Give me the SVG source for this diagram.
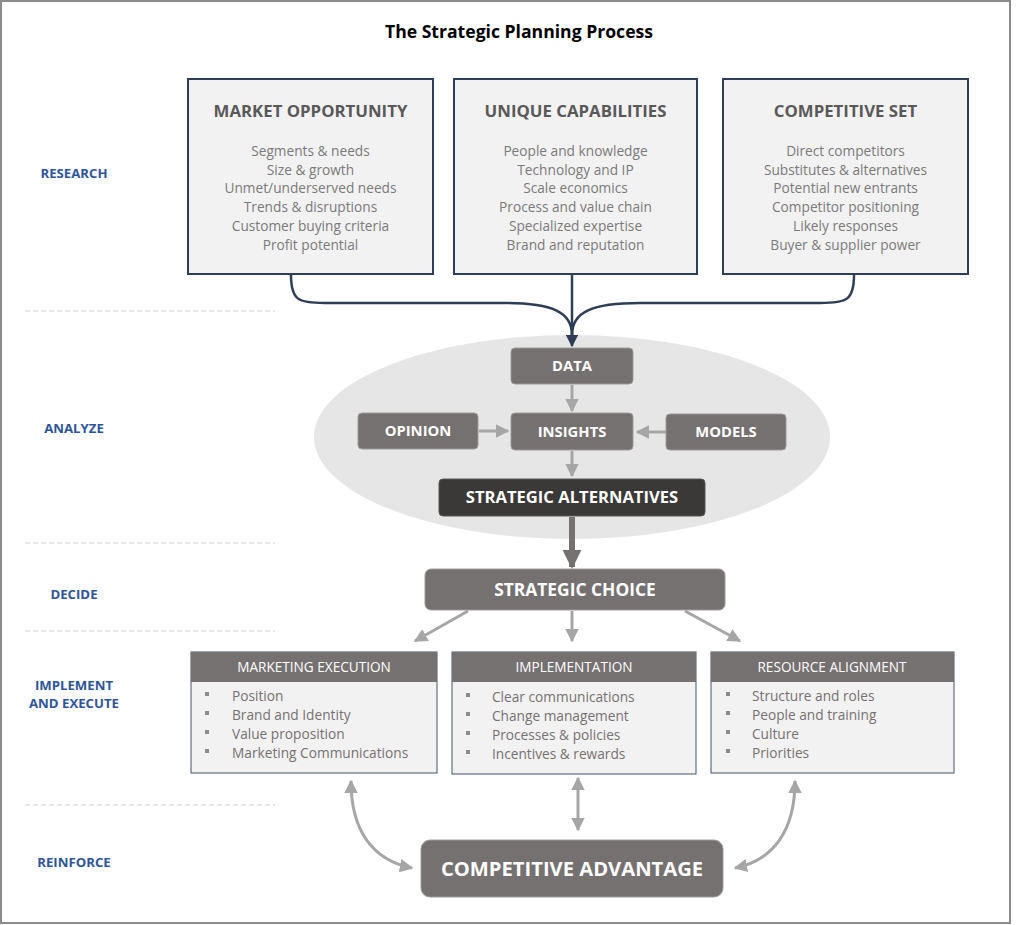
<svg xmlns="http://www.w3.org/2000/svg" width="1024" height="925" viewBox="0 0 1024 925">
<style>
.title{font-family:"Open Sans","Noto Sans",sans-serif;font-weight:bold;font-size:17.6px;fill:#000;text-anchor:middle}
.stage{font-family:"Open Sans","Noto Sans",sans-serif;font-weight:bold;font-size:13.2px;fill:#2f5597;text-anchor:middle}
.topbox{fill:#f2f2f2;stroke:#2f3d55;stroke-width:2}
.toph{font-family:"Open Sans","Noto Sans",sans-serif;font-weight:bold;font-size:16.8px;fill:#595959;text-anchor:middle}
.topi{font-family:"Open Sans","Noto Sans",sans-serif;font-size:13.7px;fill:#7a7a7a;text-anchor:middle}
.gbox{fill:#767171;stroke:#9e9a9a;stroke-width:1}
.gtxt{font-family:"Open Sans","Noto Sans",sans-serif;font-weight:bold;font-size:14.8px;fill:#fff;text-anchor:middle}
.sep{stroke:#cfcfcf;stroke-width:1;stroke-dasharray:5,3}
.body{fill:#f2f2f2;stroke:#44546a;stroke-width:1}
.hdr{fill:#767171}
.htxt{font-family:"Open Sans","Noto Sans",sans-serif;font-size:13.6px;fill:#fff;text-anchor:middle}
.li{font-family:"Open Sans","Noto Sans",sans-serif;font-size:13.7px;fill:#767171}
.bul{fill:#8c8c8c}
.nav{fill:none;stroke:#2f3d55;stroke-width:2.5}
.ga{fill:none;stroke:#a6a6a6;stroke-width:3}
</style>
<defs>
<marker id="an" viewBox="0 0 10 10" refX="9" refY="5" markerWidth="5" markerHeight="5" markerUnits="strokeWidth" orient="auto"><path d="M0,0 L10,5 L0,10 z" fill="#2f3d55"/></marker>
<marker id="ag" viewBox="0 0 10 10" refX="9" refY="5" markerWidth="4.5" markerHeight="4.5" markerUnits="strokeWidth" orient="auto-start-reverse"><path d="M0,0 L10,5 L0,10 z" fill="#a6a6a6"/></marker>
<marker id="ad" viewBox="0 0 10 10" refX="9" refY="5" markerWidth="3.2" markerHeight="3.2" markerUnits="strokeWidth" orient="auto"><path d="M0,0 L10,5 L0,10 z" fill="#767171"/></marker>
</defs>
<rect x="0" y="0" width="1024" height="925" fill="#fff"/>
<rect x="1" y="1" width="1009" height="922" fill="#fff" stroke="#8c8c8c" stroke-width="2"/>
<text class="title" x="519" y="38">The Strategic Planning Process</text>

<g id="stages">
<text class="stage" x="74" y="178">RESEARCH</text>
<text class="stage" x="74" y="433">ANALYZE</text>
<text class="stage" x="74" y="599">DECIDE</text>
<text class="stage" x="74" y="690">IMPLEMENT</text>
<text class="stage" x="74" y="708">AND EXECUTE</text>
<text class="stage" x="74" y="867">REINFORCE</text>
<line class="sep" x1="25" y1="311" x2="275" y2="311"/>
<line class="sep" x1="25" y1="543" x2="275" y2="543"/>
<line class="sep" x1="25" y1="631" x2="275" y2="631"/>
<line class="sep" x1="25" y1="805" x2="275" y2="805"/>
</g>

<g id="market-opportunity">
<rect class="topbox" x="188" y="79" width="245" height="195"/>
<text class="toph" x="310.5" y="117">MARKET OPPORTUNITY</text>
<text class="topi" x="310.5" y="156">Segments &amp; needs</text>
<text class="topi" x="310.5" y="175">Size &amp; growth</text>
<text class="topi" x="310.5" y="193">Unmet/underserved needs</text>
<text class="topi" x="310.5" y="212">Trends &amp; disruptions</text>
<text class="topi" x="310.5" y="231">Customer buying criteria</text>
<text class="topi" x="310.5" y="250">Profit potential</text>
</g>
<g id="unique-capabilities">
<rect class="topbox" x="454" y="79" width="243" height="195"/>
<text class="toph" x="575.5" y="117">UNIQUE CAPABILITIES</text>
<text class="topi" x="575.5" y="156">People and knowledge</text>
<text class="topi" x="575.5" y="175">Technology and IP</text>
<text class="topi" x="575.5" y="193">Scale economics</text>
<text class="topi" x="575.5" y="212">Process and value chain</text>
<text class="topi" x="575.5" y="231">Specialized expertise</text>
<text class="topi" x="575.5" y="250">Brand and reputation</text>
</g>
<g id="competitive-set">
<rect class="topbox" x="723" y="79" width="245" height="195"/>
<text class="toph" x="845.5" y="117">COMPETITIVE SET</text>
<text class="topi" x="845.5" y="156">Direct competitors</text>
<text class="topi" x="845.5" y="175">Substitutes &amp; alternatives</text>
<text class="topi" x="845.5" y="193">Potential new entrants</text>
<text class="topi" x="845.5" y="212">Competitor positioning</text>
<text class="topi" x="845.5" y="231">Likely responses</text>
<text class="topi" x="845.5" y="250">Buyer &amp; supplier power</text>
</g>

<ellipse id="analysis-zone" cx="572" cy="437" rx="258" ry="102" fill="#e7e6e6"/>

<g id="connectors">
<path class="nav" d="M291,275 C291,300 298,303 325,303 L505,303 C552,303 572,312 572,335"/>
<path class="nav" d="M854,275 C854,300 847,303 820,303 L640,303 C592,303 572,312 572,335"/>
<path class="nav" d="M572,275 V346" marker-end="url(#an)"/>
<path class="ga" d="M572,385 V411" marker-end="url(#ag)"/>
<path class="ga" d="M479,431 H508" marker-end="url(#ag)"/>
<path class="ga" d="M666,432 H637" marker-end="url(#ag)"/>
<path class="ga" d="M572,451 V476" marker-end="url(#ag)"/>
<path fill="none" stroke="#767171" stroke-width="6" d="M572,517 V567" marker-end="url(#ad)"/>
<path class="ga" stroke-width="4" d="M468,611 L415,641" marker-end="url(#ag)"/>
<path class="ga" stroke-width="4" d="M572,611 V641" marker-end="url(#ag)"/>
<path class="ga" stroke-width="4" d="M685,611 L740,641" marker-end="url(#ag)"/>
<path class="ga" d="M351,781 C351,830 372,860 412,868" marker-start="url(#ag)" marker-end="url(#ag)"/>
<path class="ga" d="M578,778 V830" marker-start="url(#ag)" marker-end="url(#ag)"/>
<path class="ga" d="M795,781 C795,830 774,860 735,868" marker-start="url(#ag)" marker-end="url(#ag)"/>
</g>

<g id="data"><rect class="gbox" x="511" y="348" width="122" height="36" rx="4"/><text class="gtxt" x="572" y="371">DATA</text></g>
<g id="opinion"><rect class="gbox" x="358" y="413" width="120" height="36" rx="4"/><text class="gtxt" x="418" y="436">OPINION</text></g>
<g id="insights"><rect class="gbox" x="511" y="413" width="122" height="37" rx="4"/><text class="gtxt" x="572" y="437">INSIGHTS</text></g>
<g id="models"><rect class="gbox" x="666" y="414" width="120" height="36" rx="4"/><text class="gtxt" x="726" y="437">MODELS</text></g>
<g id="strategic-alternatives"><rect x="439" y="479" width="266" height="37" rx="4" fill="#3b3838" stroke="#5a5656"/><text class="gtxt" style="font-size:16.6px" x="572" y="503">STRATEGIC ALTERNATIVES</text></g>
<g id="strategic-choice"><rect class="gbox" x="425" y="569" width="300" height="41" rx="6"/><text class="gtxt" style="font-size:17.4px" x="575" y="596">STRATEGIC CHOICE</text></g>

<g id="marketing-execution">
<rect class="body" x="191" y="652" width="246" height="121"/>
<rect class="hdr" x="191" y="652" width="246" height="30"/>
<text class="htxt" x="314" y="672">MARKETING EXECUTION</text>
<rect class="bul" x="205" y="692" width="4" height="4"/><text class="li" x="232" y="701">Position</text>
<rect class="bul" x="205" y="711" width="4" height="4"/><text class="li" x="232" y="720">Brand and Identity</text>
<rect class="bul" x="205" y="730" width="4" height="4"/><text class="li" x="232" y="739">Value proposition</text>
<rect class="bul" x="205" y="749" width="4" height="4"/><text class="li" x="232" y="758">Marketing Communications</text>
</g>
<g id="implementation">
<rect class="body" x="452" y="652" width="244" height="122"/>
<rect class="hdr" x="452" y="652" width="244" height="30"/>
<text class="htxt" x="574" y="672">IMPLEMENTATION</text>
<rect class="bul" x="466" y="693" width="4" height="4"/><text class="li" x="492" y="702">Clear communications</text>
<rect class="bul" x="466" y="712" width="4" height="4"/><text class="li" x="492" y="721">Change management</text>
<rect class="bul" x="466" y="731" width="4" height="4"/><text class="li" x="492" y="740">Processes &amp; policies</text>
<rect class="bul" x="466" y="750" width="4" height="4"/><text class="li" x="492" y="759">Incentives &amp; rewards</text>
</g>
<g id="resource-alignment">
<rect class="body" x="711" y="652" width="243" height="121"/>
<rect class="hdr" x="711" y="652" width="243" height="30"/>
<text class="htxt" x="832" y="672">RESOURCE ALIGNMENT</text>
<rect class="bul" x="726" y="692" width="4" height="4"/><text class="li" x="752" y="701">Structure and roles</text>
<rect class="bul" x="726" y="711" width="4" height="4"/><text class="li" x="752" y="720">People and training</text>
<rect class="bul" x="726" y="730" width="4" height="4"/><text class="li" x="752" y="739">Culture</text>
<rect class="bul" x="726" y="749" width="4" height="4"/><text class="li" x="752" y="758">Priorities</text>
</g>

<g id="competitive-advantage"><rect class="gbox" x="421" y="840" width="302" height="57" rx="9"/><text class="gtxt" style="font-size:20.2px" x="572" y="876">COMPETITIVE ADVANTAGE</text></g>
</svg>
